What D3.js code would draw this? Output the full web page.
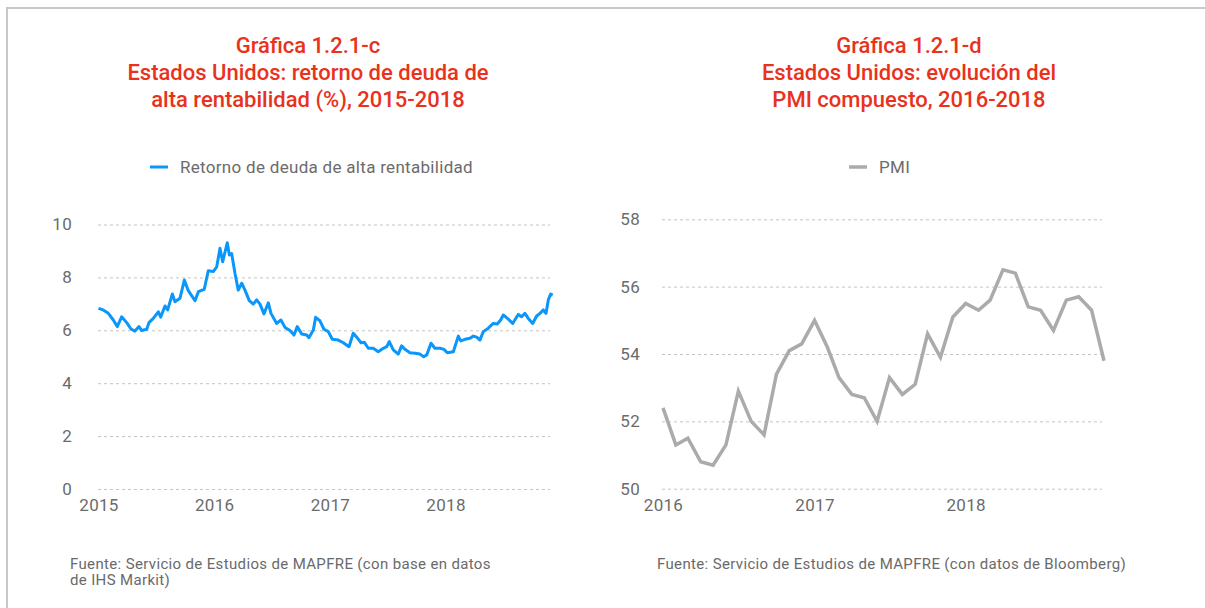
<!DOCTYPE html>
<html>
<head>
<meta charset="utf-8">
<script src="https://cdn.jsdelivr.net/npm/d3@7"></script>
<style>
  body { margin: 0; background: #fff; }
  svg { display: block; font-family: Roboto, "Noto Sans", sans-serif; }
  .title { fill: #e8321c; font-size: 22px; font-weight: 500; text-anchor: middle; }
  .axis text { fill: #6b6b6b; font-size: 17px; font-family: Roboto, sans-serif; letter-spacing: 0.3px; }
  .axis .domain { display: none; }
  .grid line { stroke: #c4c4c4; stroke-dasharray: 3,3; }
  .legend text { fill: #6b6b6b; font-size: 17px; letter-spacing: 0.3px; }
  .note { fill: #6a6a6a; font-size: 15px; letter-spacing: 0.35px; }
</style>
</head>
<body>
<svg class="chart" width="1205" height="608"></svg>
<script>
// high-yield debt return (decimal year, %)
const hyYears = [2015.00, 2015.04, 2015.085, 2015.128, 2015.162, 2015.20, 2015.244, 2015.281, 2015.315, 2015.35,
  2015.373, 2015.417, 2015.436, 2015.474, 2015.517, 2015.538, 2015.575, 2015.598, 2015.638, 2015.661,
  2015.704, 2015.742, 2015.776, 2015.834, 2015.863, 2015.914, 2015.949, 2015.992, 2016.022, 2016.05,
  2016.073, 2016.113, 2016.131, 2016.151, 2016.18, 2016.208, 2016.238, 2016.266, 2016.303, 2016.338,
  2016.367, 2016.396, 2016.43, 2016.468, 2016.491, 2016.54, 2016.577, 2016.612, 2016.655, 2016.69,
  2016.718, 2016.756, 2016.80, 2016.819, 2016.857, 2016.877, 2016.914, 2016.949, 2016.986, 2017.021,
  2017.073, 2017.116, 2017.165, 2017.202, 2017.232, 2017.269, 2017.297, 2017.332, 2017.375, 2017.418,
  2017.462, 2017.491, 2017.513, 2017.548, 2017.591, 2017.62, 2017.649, 2017.692, 2017.736, 2017.779,
  2017.811, 2017.837, 2017.874, 2017.908, 2017.952, 2017.986, 2018.015, 2018.067, 2018.11, 2018.131,
  2018.168, 2018.211, 2018.24, 2018.269, 2018.297, 2018.326, 2018.369, 2018.412, 2018.447, 2018.476,
  2018.499, 2018.542, 2018.58, 2018.628, 2018.657, 2018.686, 2018.715, 2018.753, 2018.787, 2018.816,
  2018.844, 2018.868, 2018.888, 2018.908, 2018.926]
const hyValues = [6.83, 6.77, 6.64, 6.39, 6.14, 6.51, 6.29, 6.05, 5.97, 6.14,
  5.99, 6.04, 6.29, 6.45, 6.70, 6.50, 6.92, 6.77, 7.37, 7.08,
  7.21, 7.90, 7.50, 7.12, 7.46, 7.55, 8.25, 8.22, 8.40, 9.10,
  8.59, 9.31, 8.85, 8.90, 8.15, 7.52, 7.78, 7.52, 7.12, 6.99,
  7.15, 6.99, 6.62, 7.04, 6.64, 6.26, 6.39, 6.11, 5.99, 5.82,
  6.14, 5.86, 5.82, 5.72, 6.01, 6.49, 6.36, 6.04, 5.95, 5.66,
  5.63, 5.53, 5.38, 5.89, 5.74, 5.53, 5.55, 5.32, 5.32, 5.19,
  5.32, 5.38, 5.57, 5.26, 5.10, 5.41, 5.28, 5.15, 5.13, 5.10,
  5.00, 5.07, 5.51, 5.32, 5.32, 5.28, 5.15, 5.19, 5.78, 5.60,
  5.66, 5.70, 5.78, 5.74, 5.63, 5.95, 6.08, 6.26, 6.24, 6.39,
  6.58, 6.42, 6.26, 6.60, 6.51, 6.64, 6.45, 6.26, 6.54, 6.64,
  6.77, 6.64, 7.15, 7.37, 7.33]
const hyTicks = [2015, 2016, 2017, 2018]
const hyYTicks = [0, 2, 4, 6, 8, 10]

// composite PMI, monthly Jan 2016 - Dec 2018
const pmiValues = [52.4, 51.3, 51.5, 50.8, 50.7, 51.3, 52.9, 52.0, 51.6, 53.4, 54.1, 54.3,
  55.0, 54.2, 53.3, 52.8, 52.7, 52.0, 53.3, 52.8, 53.1, 54.6, 53.9, 55.1,
  55.5, 55.3, 55.6, 56.5, 56.4, 55.4, 55.3, 54.7, 55.6, 55.7, 55.3, 53.8]
const pmiTicks = ["2016", "2017", "2018"]
const pmiYTicks = [50, 52, 54, 56, 58]

const svg = d3.select(".chart")

// frame
svg.append("path")
  .attr("d", "M7,608V8H1205")
  .attr("fill", "none")
  .attr("stroke", "#c8c8c8")
  .attr("stroke-width", 2)

function title(cx, lines) {
  var t = svg.append("text").attr("class", "title")
  lines.forEach(function(s, i) {
    t.append("tspan").attr("x", cx).attr("y", 53 + i * 27).text(s)
  })
}

function legend(x0, y0, color, width, label) {
  var g = svg.append("g").attr("class", "legend")
  g.append("line")
    .attr("x1", x0).attr("x2", x0 + 18).attr("y1", y0).attr("y2", y0)
    .attr("stroke", color).attr("stroke-width", width)
  g.append("text").attr("x", x0 + 30).attr("y", y0 + 6).text(label)
}

// ---- left chart
title(308, ["Gráfica 1.2.1-c", "Estados Unidos: retorno de deuda de", "alta rentabilidad (%), 2015-2018"])
legend(150, 167, "#0a97fb", 3, "Retorno de deuda de alta rentabilidad")

var x1 = d3.scaleLinear().domain([2015, 2018.9]).range([98.5, 549.7])
var y1 = d3.scaleLinear().domain([0, 10]).range([489, 224.5])

svg.append("g")
  .attr("class", "axis grid")
  .attr("transform", "translate(98,0)")
  .call(d3.axisLeft(y1).tickValues(hyYTicks).tickSize(-452).tickPadding(26))

svg.append("g")
  .attr("class", "axis")
  .attr("transform", "translate(0,489)")
  .call(d3.axisBottom(x1).tickValues(hyTicks).tickFormat(d3.format("")).tickSize(0).tickPadding(10))

svg.append("path")
  .datum(d3.zip(hyYears, hyValues))
  .attr("fill", "none")
  .attr("stroke", "#0a97fb")
  .attr("stroke-width", 3)
  .attr("stroke-linejoin", "round")
  .attr("d", d3.line().x(function(d) { return x1(d[0]) }).y(function(d) { return y1(d[1]) }))

svg.append("text").attr("class", "note").attr("x", 70).attr("y", 569)
  .text("Fuente: Servicio de Estudios de MAPFRE (con base en datos")
svg.append("text").attr("class", "note").attr("x", 70).attr("y", 585)
  .text("de IHS Markit)")

// ---- right chart
title(909, ["Gráfica 1.2.1-d", "Estados Unidos: evolución del", "PMI compuesto, 2016-2018"])
legend(849, 167, "#ababab", 3.5, "PMI")

var months = d3.timeMonths(new Date(2016, 0, 1), new Date(2019, 0, 1))
var x2 = d3.scaleTime().domain([months[0], months[35]]).range([663, 1104])
var y2 = d3.scaleLinear().domain([50, 58]).range([488.7, 219.3])

svg.append("g")
  .attr("class", "axis grid")
  .attr("transform", "translate(662,0)")
  .call(d3.axisLeft(y2).tickValues(pmiYTicks).tickSize(-440).tickPadding(22))

svg.append("g")
  .attr("class", "axis")
  .attr("transform", "translate(0,489)")
  .call(d3.axisBottom(x2)
    .tickValues(pmiTicks.map(function(s) { return new Date(+s, 0, 1) }))
    .tickFormat(d3.timeFormat("%Y")).tickSize(0).tickPadding(10))

svg.append("path")
  .datum(pmiValues)
  .attr("fill", "none")
  .attr("stroke", "#ababab")
  .attr("stroke-width", 3.5)
  .attr("d", d3.line().x(function(d, i) { return x2(months[i]) }).y(function(d) { return y2(d) }))

svg.append("text").attr("class", "note").attr("x", 657).attr("y", 569)
  .text("Fuente: Servicio de Estudios de MAPFRE (con datos de Bloomberg)")
</script>
</body>
</html>
